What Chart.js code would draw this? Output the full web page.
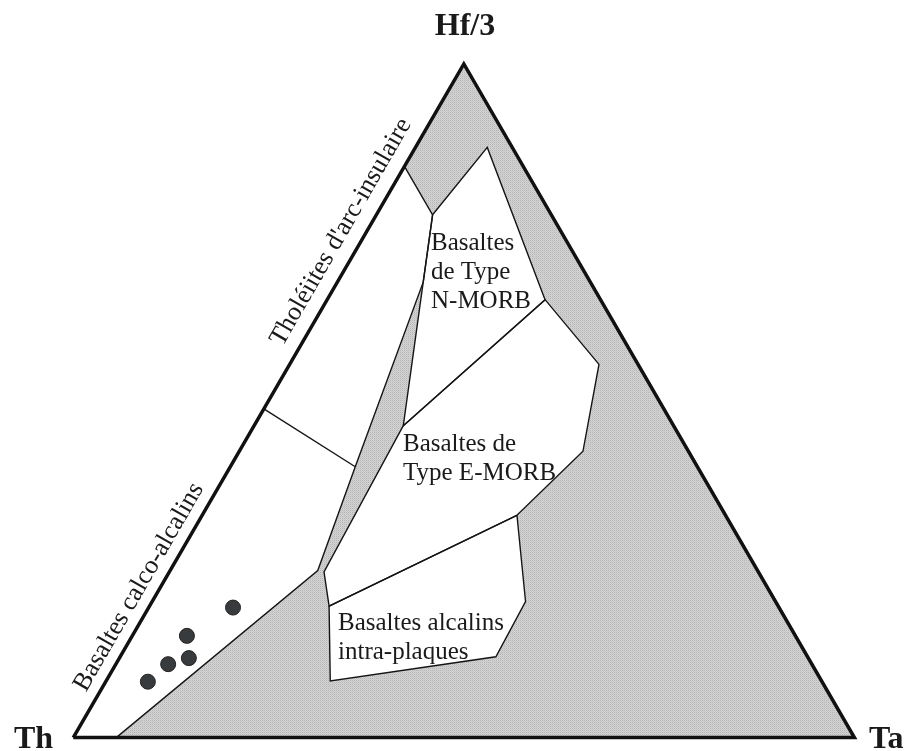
<!DOCTYPE html>
<html>
<head>
<meta charset="utf-8">
<script src="https://cdn.jsdelivr.net/npm/chart.js@4.4.1/dist/chart.umd.min.js"></script>
<style>
  html, body { margin: 0; padding: 0; background: #fff; }
  #chart { display: block; }
</style>
</head>
<body>
<canvas id="chart" width="909" height="751"></canvas>
<script>
// Diagramme Hf/3 - Th - Ta : compositions en % [Th, Ta, Hf/3]
const corners = [[100, 0, 0], [0, 100, 0], [0, 0, 100]];

const fieldArc = [[100, 0, 0], [94.5, 5.5, 0], [56.3, 18.9, 24.8], [44, 16, 40.2],
  [21.4, 11, 67.6], [15.2, 7.2, 77.6], [15.2, 0, 84.8]];
const lineArcCalc = [[51.2, 0, 48.8], [44, 16, 40.2]];
const fieldNmorb = [[15.2, 7.2, 77.6], [3.2, 9.2, 87.6], [7.1, 27.9, 65.0],
  [34.6, 19.1, 46.3], [21.4, 11, 67.6]];
const fieldEmorb = [[34.6, 19.1, 46.3], [7.1, 27.9, 65.0], [5.0, 39.6, 55.4],
  [13.5, 44.0, 42.5], [26.7, 40.3, 33.0], [57.5, 23.0, 19.5], [55.6, 19.8, 24.6]];
const fieldAlk = [[57.5, 23.0, 19.5], [26.7, 40.3, 33.0], [32.0, 47.8, 20.2],
  [39.9, 48.1, 12.0], [62.9, 28.7, 8.4]];

const samples = [[69.9, 10.8, 19.3], [77.9, 7.0, 15.1], [79.3, 8.9, 11.8],
  [82.4, 6.7, 10.9], [86.3, 5.4, 8.3]];

const H = Math.sqrt(3) / 2;
const toXY = ([th, ta, hf]) => ({ x: ta + hf / 2, y: hf * H });
const closed = arr => arr.concat([arr[0]]).map(toXY);
const open = arr => arr.map(toXY);

function greyPattern(ctx) {
  const c = document.createElement('canvas');
  c.width = 2; c.height = 2;
  const g = c.getContext('2d');
  g.fillStyle = '#d3d3d3'; g.fillRect(0, 0, 2, 2);
  g.fillStyle = '#b5b5b5'; g.fillRect(0, 0, 1, 1);
  g.fillStyle = '#c9c9c9'; g.fillRect(1, 1, 1, 1);
  return ctx.createPattern(c, 'repeat');
}

const zones = {
  id: 'zones',
  beforeDatasetsDraw(chart) {
    const { ctx, scales: { x, y } } = chart;
    const poly = (pts, fill) => {
      ctx.beginPath();
      pts.map(toXY).forEach((p, i) => {
        const px = x.getPixelForValue(p.x), py = y.getPixelForValue(p.y);
        i ? ctx.lineTo(px, py) : ctx.moveTo(px, py);
      });
      ctx.closePath();
      ctx.fillStyle = fill;
      ctx.fill();
    };
    ctx.save();
    poly(corners, greyPattern(ctx));
    [fieldArc, fieldNmorb, fieldEmorb, fieldAlk].forEach(f => poly(f, '#fff'));
    ctx.restore();
  },
  afterDatasetsDraw(chart) {
    const { ctx } = chart;
    ctx.save();
    ctx.fillStyle = '#1a1a1a';
    ctx.textBaseline = 'alphabetic';
    ctx.font = 'bold 32px "Liberation Serif"';
    ctx.textAlign = 'left';
    ctx.fillText(cornerLabelsText[0], 14, 748);
    ctx.fillText(cornerLabelsText[1], 869, 748);
    ctx.textAlign = 'center';
    ctx.fillText(cornerLabelsText[2], 465, 35);

    ctx.font = '25px "Liberation Serif"';
    ctx.textAlign = 'left';
    const block = (lines, x0, y0) => lines.forEach((t, i) => ctx.fillText(t, x0, y0 + i * 29));
    block(['Basaltes', 'de Type', 'N-MORB'], 431, 250);
    block(['Basaltes de', 'Type E-MORB'], 403, 451);
    block(['Basaltes alcalins', 'intra-plaques'], 338, 630);

    ctx.font = '26px "Liberation Serif"';
    ctx.textAlign = 'center';
    ctx.textBaseline = 'middle';
    const along = (t, cx, cy) => {
      ctx.save();
      ctx.translate(cx, cy);
      ctx.rotate(-Math.PI / 3);
      ctx.fillText(t, 0, 0);
      ctx.restore();
    };
    along("Tholéiites d'arc-insulaire", 341, 232);
    along('Basaltes calco-alcalins', 139, 587);
    ctx.restore();
  }
};

const cornerLabelsText = ['Th', 'Ta', 'Hf/3'];

const lineStyle = { showLine: true, pointRadius: 0, borderColor: '#151515', borderWidth: 1.4, fill: false, borderJoinStyle: 'miter' };

new Chart(document.getElementById('chart'), {
  type: 'scatter',
  data: {
    datasets: [
      { data: samples.map(toXY), pointRadius: 7.5, pointBackgroundColor: '#383b3d', pointBorderColor: '#222', pointBorderWidth: 1 },
      { ...lineStyle, data: closed(corners), borderWidth: 3.5, borderColor: '#111' },
      { ...lineStyle, data: open(fieldArc.slice(1)) },
      { ...lineStyle, data: open(lineArcCalc) },
      { ...lineStyle, data: closed(fieldNmorb) },
      { ...lineStyle, data: closed(fieldEmorb) },
      { ...lineStyle, data: closed(fieldAlk) }
    ]
  },
  options: {
    responsive: false,
    animation: false,
    layout: { padding: 0 },
    plugins: { legend: { display: false }, tooltip: { enabled: false } },
    scales: {
      x: { type: 'linear', display: false, min: -8.29, max: 105.9 },
      y: { type: 'linear', display: false, min: -0.63, max: 93.72 }
    }
  },
  plugins: [zones]
});
</script>
</body>
</html>
